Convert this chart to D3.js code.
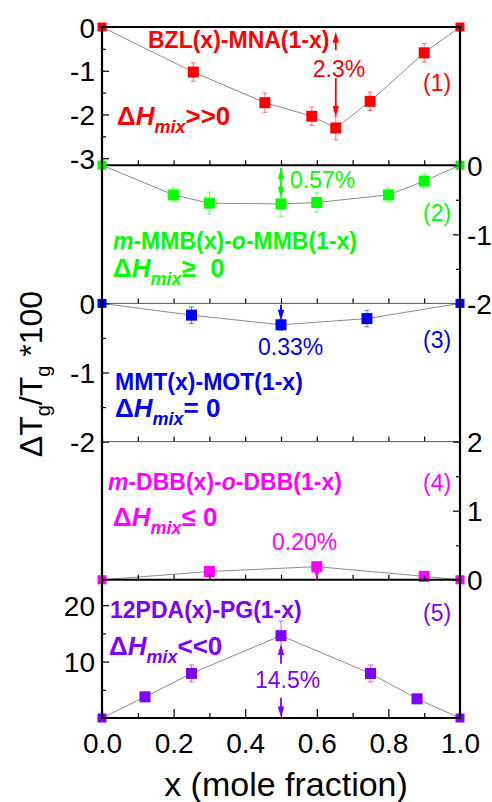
<!DOCTYPE html>
<html>
<head>
<meta charset="utf-8">
<script src="https://cdn.jsdelivr.net/npm/d3@7"></script>
<style>
  body { margin: 0; background: #fff; }
  svg { display: block; font-family: "Liberation Sans", Arial, sans-serif; }
</style>
</head>
<body>
<div class="container"></div>
<script>
const WIDTH = 492, HEIGHT = 802;
const LEFT = 102, RIGHT = 460, TOP = 27, BOTTOM = 718;

const xTicks = [0, 0.2, 0.4, 0.6, 0.8, 1.0];
const xMinor = [0.1, 0.3, 0.5, 0.7, 0.9];

// (1) BZL(x)-MNA(1-x)
const bzlX = [0, 0.255, 0.455, 0.586, 0.653, 0.749, 0.90, 1];
const bzlY = [0, -1.03, -1.73, -2.04, -2.31, -1.70, -0.59, 0];
const bzlErr = [0, 0.21, 0.22, 0.21, 0.27, 0.21, 0.21, 0];
const bzlTicks = [0, -1, -2, -3];
const bzlMinor = [-0.5, -1.5, -2.5];

// (2) m-MMB(x)-o-MMB(1-x)
const mmbX = [0, 0.2, 0.3, 0.5, 0.6, 0.8, 0.9, 1];
const mmbY = [0, -0.43, -0.55, -0.56, -0.54, -0.43, -0.23, 0];
const mmbErr = [0, 0.1, 0.16, 0.18, 0.14, 0.1, 0.1, 0];
const mmbTicks = [0, -1, -2];
const mmbMinor = [-0.5, -1.5];

// (3) MMT(x)-MOT(1-x)
const mmtX = [0, 0.25, 0.5, 0.74, 1];
const mmtY = [0, -0.17, -0.31, -0.22, 0];
const mmtErr = [0, 0.12, 0.08, 0.12, 0];
const mmtTicks = [0, -1, -2];
const mmtMinor = [-0.5, -1.5];

// (4) m-DBB(x)-o-DBB(1-x)
const dbbX = [0, 0.3, 0.6, 0.9, 1];
const dbbY = [0, 0.12, 0.19, 0.05, 0];
const dbbErr = [0, 0.05, 0.05, 0.04, 0];
const dbbTicks = [0, 1, 2];
const dbbMinor = [0.5, 1.5];

// (5) 12PDA(x)-PG(1-x)
const pdaX = [0, 0.12, 0.25, 0.5, 0.75, 0.88, 1];
const pdaY = [0, 3.75, 7.9, 14.6, 7.9, 3.4, 0];
const pdaErr = [0, 0.5, 1.5, 2.6, 1.5, 0.5, 0];
const pdaTicks = [10, 20];
const pdaMinor = [5, 15];

const panels = [
  { x: bzlX, y: bzlY, err: bzlErr, domain: [-3.16, 0], ticks: bzlTicks, minor: bzlMinor, side: 'left', color: '#ff0000' },
  { x: mmbX, y: mmbY, err: mmbErr, domain: [-2, 0], ticks: mmbTicks, minor: mmbMinor, side: 'right', color: '#00ff00' },
  { x: mmtX, y: mmtY, err: mmtErr, domain: [-2, 0], ticks: mmtTicks, minor: mmtMinor, side: 'left', color: '#0000ff' },
  { x: dbbX, y: dbbY, err: dbbErr, domain: [0, 2], ticks: dbbTicks, minor: dbbMinor, side: 'right', color: '#ff00ff' },
  { x: pdaX, y: pdaY, err: pdaErr, domain: [0, 24.5], ticks: pdaTicks, minor: pdaMinor, side: 'left', color: '#8000ff' }
];

const svg = d3.select('.container').append('svg')
  .attr('width', WIDTH)
  .attr('height', HEIGHT);

const x = d3.scaleLinear().domain([0, 1]).range([LEFT, RIGHT]);
const panelH = (BOTTOM - TOP) / panels.length;

var styleAxis = function (g, size) {
  g.select('.domain').remove();
  g.selectAll('line').attr('stroke', '#000').attr('stroke-width', 1.2);
  g.selectAll('text').attr('font-family', '"Liberation Sans", Arial, sans-serif')
    .attr('font-size', size).attr('fill', '#000');
}

var arrowHead = function (g, cx, tipY, dir, color) {
  // dir = -1 pointing up, +1 pointing down
  const len = 11, hw = 3.2;
  g.append('path')
    .attr('d', `M${cx},${tipY} L${cx - hw},${tipY - dir * len} L${cx + hw},${tipY - dir * len} Z`)
    .attr('fill', color);
}

var arrow = function (g, xv, y, from, to, color, both) {
  const cx = x(xv), y1 = y(from), y2 = y(to);
  const dir = y2 > y1 ? 1 : -1;
  g.append('line')
    .attr('x1', cx).attr('x2', cx)
    .attr('y1', y1).attr('y2', y2 - dir * 6)
    .attr('stroke', color).attr('stroke-width', 1.8);
  arrowHead(g, cx, y2, dir, color);
  if (both) arrowHead(g, cx, y1, -dir, color);
}

panels.forEach(function (p, i) {
  const top = TOP + i * panelH, bottom = top + panelH;
  p.top = top; p.bottom = bottom;
  const y = d3.scaleLinear().domain(p.domain).range([bottom, top]);
  p.scale = y;
  const g = svg.append('g');
  const pts = p.x.map((v, k) => ({ x: v, y: p.y[k], e: p.err[k], end: v === 0 || v === 1 }));

  // connecting line
  g.append('path')
    .datum(pts)
    .attr('d', d3.line().x(d => x(d.x)).y(d => y(d.y)))
    .attr('fill', 'none')
    .attr('stroke', '#8c8c8c')
    .attr('stroke-width', 1);

  // error bars
  const eb = g.selectAll('.err').data(pts.filter(d => d.e > 0)).enter().append('g');
  eb.append('line')
    .attr('x1', d => x(d.x)).attr('x2', d => x(d.x))
    .attr('y1', d => y(d.y - d.e)).attr('y2', d => y(d.y + d.e))
    .attr('stroke', p.color).attr('stroke-opacity', 0.55).attr('stroke-width', 1);
  [-1, 1].forEach(function (s) {
    eb.append('line')
      .attr('x1', d => x(d.x) - 2.5).attr('x2', d => x(d.x) + 2.5)
      .attr('y1', d => y(d.y + s * d.e)).attr('y2', d => y(d.y + s * d.e))
      .attr('stroke', p.color).attr('stroke-opacity', 0.55).attr('stroke-width', 1);
  });

  // markers
  g.selectAll('.pt').data(pts).enter().append('rect')
    .attr('x', d => x(d.x) - (d.end ? 4.5 : 5.5))
    .attr('y', d => y(d.y) - (d.end ? 4.5 : 5.5))
    .attr('width', d => d.end ? 9 : 11)
    .attr('height', d => d.end ? 9 : 11)
    .attr('fill', p.color);

  // y axis
  const isLeft = p.side === 'left';
  const yAxis = (isLeft ? d3.axisLeft(y) : d3.axisRight(y))
    .tickValues(p.ticks).tickSize(-7).tickPadding(7)
    .tickFormat(d => d < 0 ? '-' + Math.abs(d) : String(d));
  const ya = svg.append('g')
    .attr('transform', `translate(${isLeft ? LEFT : RIGHT},0)`)
    .call(yAxis);
  styleAxis(ya, 28);
  ya.selectAll('text').attr('dy', '0.36em');
  const ym = svg.append('g')
    .attr('transform', `translate(${isLeft ? LEFT : RIGHT},0)`)
    .call((isLeft ? d3.axisLeft(y) : d3.axisRight(y)).tickValues(p.minor).tickSize(-4).tickFormat(''));
  styleAxis(ym, 10);

  // x ticks on panel bottom
  const last = i === panels.length - 1;
  const xa = svg.append('g')
    .attr('transform', `translate(0,${bottom})`)
    .call(d3.axisBottom(x).tickValues(xTicks).tickSize(last ? -9 : -5).tickPadding(last ? 15 : 0)
      .tickFormat(last ? d3.format('.1f') : ''));
  styleAxis(xa, 28);
  const xm = svg.append('g')
    .attr('transform', `translate(0,${bottom})`)
    .call(d3.axisBottom(x).tickValues(xMinor).tickSize(last ? -5 : -5).tickFormat(''));
  styleAxis(xm, 10);

  // panel separator
  const thick = i === 0 || i === 3 || last;
  svg.append('line')
    .attr('x1', LEFT).attr('x2', RIGHT)
    .attr('y1', bottom).attr('y2', bottom)
    .attr('stroke', thick ? '#000' : '#555')
    .attr('stroke-width', thick ? 2 : 1);
});

// frame
svg.append('line').attr('x1', LEFT).attr('x2', RIGHT).attr('y1', TOP).attr('y2', TOP)
  .attr('stroke', '#000').attr('stroke-width', 2);
[LEFT, RIGHT].forEach(function (xx) {
  svg.append('line').attr('x1', xx).attr('x2', xx).attr('y1', TOP - 1).attr('y2', BOTTOM + 1)
    .attr('stroke', '#000').attr('stroke-width', 2.2);
});

// annotations
var label = function (txt, px, py, color, size, weight, anchor) {
  return svg.append('text')
    .attr('x', px).attr('y', py)
    .attr('fill', color)
    .attr('font-size', size)
    .attr('font-weight', weight || 'normal')
    .attr('text-anchor', anchor || 'start')
    .text(txt);
}

var dH = function (px, py, color, rest) {
  const t = svg.append('text').attr('x', px).attr('y', py)
    .attr('fill', color).attr('font-weight', 'bold').attr('font-size', 26);
  t.append('tspan').text('\u0394');
  t.append('tspan').attr('font-style', 'italic').text('H');
  t.append('tspan').attr('font-style', 'italic').attr('font-size', 18).attr('dy', 8).text('mix');
  t.append('tspan').attr('dy', -8).text(rest);
}

var mixed = function (parts, px, py, color) {
  const t = svg.append('text').attr('x', px).attr('y', py)
    .attr('fill', color).attr('font-weight', 'bold').attr('font-size', 23);
  parts.forEach(function (s) {
    t.append('tspan').attr('font-style', s[1] ? 'italic' : 'normal').text(s[0]);
  });
}

const [p1, p2, p3, p4, p5] = panels;

// (1)
mixed([['BZL(x)-MNA(1-x)', false]], 148, 48, p1.color);
label('2.3%', 339, 77, p1.color, 23, 'normal', 'middle');
label('(1)', 423, 91, p1.color, 23);
dH(117, 125, p1.color, '>>0');
arrow(svg, 0.653, p1.scale, -0.53, -0.11, p1.color, false);
arrow(svg, 0.653, p1.scale, -1.17, -2.06, p1.color, false);

// (2)
label('0.57%', 290, 188, p2.color, 23);
label('(2)', 423, 221, p2.color, 23);
mixed([['m', true], ['-MMB(x)-', false], ['o', true], ['-MMB(1-x)', false]], 113, 249, p2.color);
dH(113, 277, p2.color, '\u2265\u00a0 0');
arrow(svg, 0.5, p2.scale, -0.04, -0.47, p2.color, true);

// (3)
label('0.33%', 258, 355, p3.color, 23);
label('(3)', 423, 348, p3.color, 23);
mixed([['MMT(x)-MOT(1-x)', false]], 115, 390, p3.color);
dH(115, 417, p3.color, '= 0');
arrow(svg, 0.5, p3.scale, -0.02, -0.25, p3.color, false);

// (4)
mixed([['m', true], ['-DBB(x)-', false], ['o', true], ['-DBB(1-x)', false]], 108, 490, p4.color);
label('(4)', 423, 491, p4.color, 23);
dH(113, 526, p4.color, '\u2264 0');
label('0.20%', 272, 550, p4.color, 23);
arrow(svg, 0.6, p4.scale, 0.13, 0.0, p4.color, false);

// (5)
mixed([['12PDA(x)-PG(1-x)', false]], 110, 618, p5.color);
label('(5)', 423, 621, p5.color, 23);
dH(109, 655, p5.color, '<<0');
label('14.5%', 255, 688, p5.color, 23);
arrow(svg, 0.5, p5.scale, 9.6, 13.1, p5.color, false);
arrow(svg, 0.5, p5.scale, 3.6, 0.1, p5.color, false);

// axis titles
label('x (mole fraction)', 286, 796, '#000', 34, 'normal', 'middle');

const yt = svg.append('text')
  .attr('transform', 'translate(42,374) rotate(-90)')
  .attr('text-anchor', 'middle')
  .attr('font-size', 32)
  .attr('fill', '#000');
yt.append('tspan').text('\u0394T');
yt.append('tspan').attr('font-size', 20).attr('dy', 8).text('g');
yt.append('tspan').attr('dy', -8).text('/T');
yt.append('tspan').attr('font-size', 20).attr('dy', 8).text('g');
yt.append('tspan').attr('dy', -8).text(' *100');
</script>
</body>
</html>
